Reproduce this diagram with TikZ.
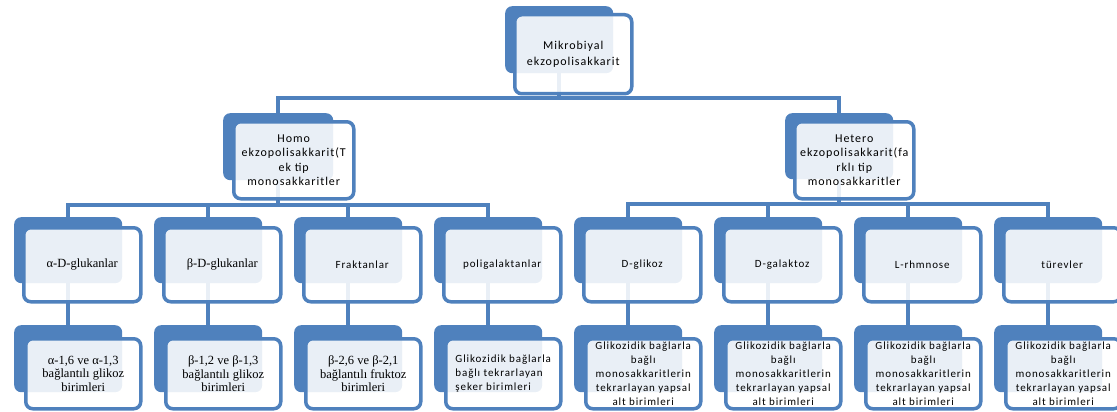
\documentclass[tikz,border=0pt]{standalone}
\usepackage{fontspec}
\setmainfont{Liberation Serif}
\newfontfamily\boxsans[LetterSpace=8]{Carlito}
\usetikzlibrary{backgrounds}
\definecolor{smartblue}{RGB}{79,129,189}

\begin{document}
\begin{tikzpicture}[x=1pt,y=-1pt,
        backbox/.style={fill=smartblue,rounded corners=7pt,anchor=north west,inner sep=0pt},
        frontbox/.style={draw=smartblue,line width=3.5pt,fill=white,fill opacity=0.88,text opacity=1,
            rounded corners=7pt,anchor=north west,inner sep=0pt,align=center},
        rowtwoback/.style={backbox,minimum width=108pt,minimum height=66pt},
        rowtwofront/.style={frontbox,minimum width=117pt,minimum height=74pt},
        rowthreeback/.style={backbox,minimum width=108pt,minimum height=67pt},
        rowthreefront/.style={frontbox,minimum width=115pt,minimum height=70pt},
        sanstext/.style={font=\boxsans\fontsize{11}{14}\selectfont},
        seriftext/.style={font=\fontsize{12.5}{13.5}\selectfont},
        link/.style={draw=smartblue,line width=4pt}]
        \useasboundingbox (0,0) rectangle (1117,412);
        % top level
        \node[backbox,minimum width=108pt,minimum height=67pt] (topb) at (505,6) {};
        \node[frontbox,minimum width=117pt,minimum height=79pt,font=\boxsans\fontsize{12}{16}\selectfont]
            (topf) at ([shift={(8,7)}]topb.north west) {Mikrobiyal\\ekzopolisakkarit};
        % second level
        \node[backbox,minimum width=110pt,minimum height=67pt] (homob) at (223,113) {};
        \node[frontbox,minimum width=120pt,minimum height=77pt,font=\boxsans\fontsize{12}{14.5}\selectfont]
            (homof) at ([shift={(9,7)}]homob.north west) {Homo\\ekzopolisakkarit(T\\ek tip\\monosakkaritler};
        \node[backbox,minimum width=108pt,minimum height=66pt] (heterob) at (785,113) {};
        \node[frontbox,minimum width=119pt,minimum height=77pt,font=\boxsans\fontsize{12}{14.5}\selectfont]
            (heterof) at ([shift={(8,7)}]heterob.north west) {Hetero\\ekzopolisakkarit(fa\\rklı tip\\monosakkaritler};
        % third level
        \node[rowtwoback] (alfab) at (14,217) {};
        \node[rowtwofront,seriftext] (alfaf) at ([shift={(8,9)}]alfab.north west) {α-D-glukanlar};
        \node[rowtwoback] (betab) at (154,217) {};
        \node[rowtwofront,seriftext] (betaf) at ([shift={(8,9)}]betab.north west) {β-D-glukanlar};
        \node[rowtwoback] (frakb) at (294,217) {};
        \node[rowtwofront,sanstext] (frakf) at ([shift={(8,9)}]frakb.north west) {Fraktanlar};
        \node[rowtwoback] (polib) at (434,217) {};
        \node[rowtwofront,sanstext] (polif) at ([shift={(8,9)}]polib.north west) {poligalaktanlar};
        \node[rowtwoback] (glikb) at (574,217) {};
        \node[rowtwofront,sanstext] (glikf) at ([shift={(8,9)}]glikb.north west) {D-glikoz};
        \node[rowtwoback] (galb) at (714,217) {};
        \node[rowtwofront,sanstext] (galf) at ([shift={(8,9)}]galb.north west) {D-galaktoz};
        \node[rowtwoback] (rhamb) at (854,217) {};
        \node[rowtwofront,sanstext] (rhamf) at ([shift={(8,9)}]rhamb.north west) {L-rhmnose};
        \node[rowtwoback] (turb) at (994,217) {};
        \node[rowtwofront,sanstext] (turf) at ([shift={(8,9)}]turb.north west) {türevler};
        % fourth level
        \node[rowthreeback] (alfaub) at (14,325) {};
        \node[rowthreefront,seriftext] (alfauf) at ([shift={(10,12)}]alfaub.north west)
            {α-1,6 ve α-1,3\\bağlantılı glikoz\\birimleri};
        \node[rowthreeback] (betaub) at (154,325) {};
        \node[rowthreefront,seriftext] (betauf) at ([shift={(10,12)}]betaub.north west)
            {β-1,2 ve β-1,3\\bağlantılı glikoz\\birimleri};
        \node[rowthreeback] (frakub) at (294,325) {};
        \node[rowthreefront,seriftext] (frakuf) at ([shift={(10,12)}]frakub.north west)
            {β-2,6 ve β-2,1\\bağlantılı fruktoz\\birimleri};
        \node[rowthreeback] (poliub) at (434,325) {};
        \node[rowthreefront,sanstext,align=left] (poliuf) at ([shift={(10,12)}]poliub.north west)
            {Glikozidik bağlarla\\bağlı tekrarlayan\\şeker birimleri};
        \node[rowthreeback] (glikub) at (574,325) {};
        \node[rowthreefront,sanstext] (glikuf) at ([shift={(10,12)}]glikub.north west)
            {Glikozidik bağlarla\\bağlı\\monosakkaritlerin\\tekrarlayan yapsal\\alt birimleri};
        \node[rowthreeback] (galub) at (714,325) {};
        \node[rowthreefront,sanstext] (galuf) at ([shift={(10,12)}]galub.north west)
            {Glikozidik bağlarla\\bağlı\\monosakkaritlerin\\tekrarlayan yapsal\\alt birimleri};
        \node[rowthreeback] (rhamub) at (854,325) {};
        \node[rowthreefront,sanstext] (rhamuf) at ([shift={(10,12)}]rhamub.north west)
            {Glikozidik bağlarla\\bağlı\\monosakkaritlerin\\tekrarlayan yapsal\\alt birimleri};
        \node[rowthreeback] (turub) at (994,325) {};
        \node[rowthreefront,sanstext] (turuf) at ([shift={(10,12)}]turub.north west)
            {Glikozidik bağlarla\\bağlı\\monosakkaritlerin\\tekrarlayan yapsal\\alt birimleri};
        % connectors
        \begin{pgfonlayer}{background}
            \draw[link] (topb.south) -- ++(0,25) -| (homob.north);
            \draw[link] (topb.south) -- ++(0,25) -| (heterob.north);
            \draw[link] (homob.south) -- ++(0,25) -| (alfab.north);
            \draw[link] (homob.south) -- ++(0,25) -| (betab.north);
            \draw[link] (homob.south) -- ++(0,25) -| (frakb.north);
            \draw[link] (homob.south) -- ++(0,25) -| (polib.north);
            \draw[link] (heterob.south) -- ++(0,25) -| (glikb.north);
            \draw[link] (heterob.south) -- ++(0,25) -| (galb.north);
            \draw[link] (heterob.south) -- ++(0,25) -| (rhamb.north);
            \draw[link] (heterob.south) -- ++(0,25) -| (turb.north);
            \draw[link] (alfab.south) -- (alfaub.north);
            \draw[link] (betab.south) -- (betaub.north);
            \draw[link] (frakb.south) -- (frakub.north);
            \draw[link] (polib.south) -- (poliub.north);
            \draw[link] (glikb.south) -- (glikub.north);
            \draw[link] (galb.south) -- (galub.north);
            \draw[link] (rhamb.south) -- (rhamub.north);
            \draw[link] (turb.south) -- (turub.north);
        \end{pgfonlayer}
    \end{tikzpicture}
\end{document}
